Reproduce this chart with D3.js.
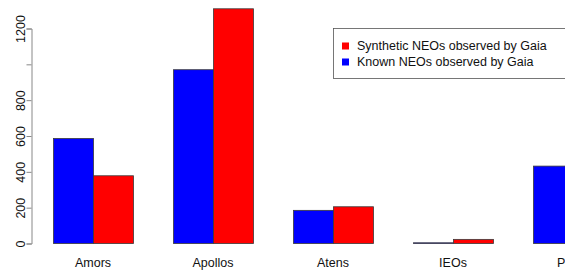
<!DOCTYPE html>
<html><head><meta charset="utf-8">
<script src="https://cdn.jsdelivr.net/npm/d3@7"></script>
<style>html,body{margin:0;padding:0;background:#fff;overflow:hidden}</style>
</head><body>
<script>
const categories = ["Amors","Apollos","Atens","IEOs","PHAs"];
const seriesNames = ["Known NEOs observed by Gaia","Synthetic NEOs observed by Gaia"];
const knownValues = [586, 970, 185, 4, 432];
const syntheticValues = [378, 1310, 205, 23, 520];
const yTicks = [0,200,400,600,800,1000,1200];
const yTickLabels = ["0","200","400","600","800","","1200"];
const colors = ["#0000ff","#ff0000"];

const W = 565, H = 270;
const svg = d3.select("body").append("svg").attr("width",W).attr("height",H)
  .style("font-family","'Liberation Sans', Arial, Helvetica, sans-serif");

const y = d3.scaleLinear().domain([0,1200]).range([243.5,28.5]);
const x0 = d3.scaleBand().domain(categories).range([33,633]).paddingInner(1/3).paddingOuter(1/6);
const x1 = d3.scaleBand().domain(["known","synthetic"]).range([0,x0.bandwidth()]);

const data = categories.map((c,i)=>({cat:c, vals:[{k:"known",v:knownValues[i],c:colors[0]},{k:"synthetic",v:syntheticValues[i],c:colors[1]}]}));

const g = svg.selectAll("g.grp").data(data).join("g").attr("class","grp")
  .attr("transform",d=>`translate(${x0(d.cat)},0)`);
g.selectAll("rect").data(d=>d.vals).join("rect")
  .attr("x",d=>x1(d.k)+0.5)
  .attr("y",d=>y(d.v))
  .attr("width",x1.bandwidth())
  .attr("height",d=>y(0)-y(d.v))
  .attr("fill",d=>d.c)
  .attr("stroke","#3a3a3a").attr("stroke-width",0.8);

// category labels
svg.selectAll("text.cat").data(categories).join("text").attr("class","cat")
  .attr("x",d=>x0(d)+x0.bandwidth()/2).attr("y",267)
  .attr("text-anchor","middle").attr("font-size",12.5).attr("fill","#111").text(d=>d);

// y axis
const axis = d3.axisLeft(y).tickValues(yTicks).tickSize(5).tickFormat((d,i)=>yTickLabels[i]);
const ax = svg.append("g").attr("transform","translate(31.5,0)").call(axis);
ax.select(".domain").attr("stroke","#888");
ax.selectAll(".tick line").attr("stroke","#888");
ax.selectAll(".tick text")
  .attr("font-size",12.5).attr("fill","#111")
  .attr("font-family","'Liberation Sans', Arial, sans-serif")
  .attr("transform",function(){return null;})
  .each(function(d){
    const t=d3.select(this);
    t.attr("x",null).attr("dy",null).attr("text-anchor","middle")
     .attr("transform",`translate(-11,${y(d)-y(d)}) rotate(-90)`).attr("y",0).attr("dy","0.35em");
  });

// legend
const lg = svg.append("g");
lg.append("rect").attr("x",333.5).attr("y",28.5).attr("width",260).attr("height",50)
  .attr("fill","#fff").attr("stroke","#555").attr("stroke-width",0.8);
const legendItems = [{n:seriesNames[1],c:colors[1]},{n:seriesNames[0],c:colors[0]}];
legendItems.forEach((it,i)=>{
  const yy = 46 + i*16;
  lg.append("rect").attr("x",342).attr("y",yy-3.5).attr("width",7).attr("height",7).attr("fill",it.c);
  lg.append("text").attr("x",357).attr("y",yy).attr("dy","0.35em").attr("font-size",12.5).attr("fill","#111").text(it.n);
});
</script>
</body></html>
